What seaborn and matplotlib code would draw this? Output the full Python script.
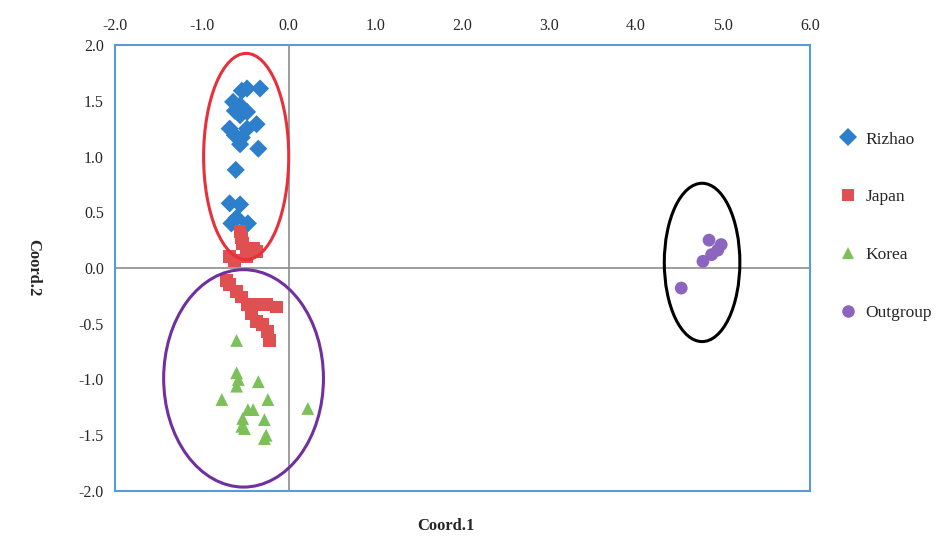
import numpy as np
import pandas as pd
import matplotlib
matplotlib.use("Agg")
import matplotlib.pyplot as plt
from matplotlib.patches import Ellipse
import seaborn as sns

# PCoA coordinates
rizhao_x = [-0.33, -0.54, -0.48, -0.64, -0.56, -0.62, -0.48, -0.56, -0.37, -0.68, -0.48,
            -0.62, -0.54, -0.56, -0.35, -0.61, -0.68, -0.56, -0.60, -0.66, -0.47]
rizhao_y = [1.61, 1.59, 1.61, 1.49, 1.46, 1.41, 1.40, 1.37, 1.29, 1.25, 1.25,
            1.19, 1.17, 1.11, 1.07, 0.88, 0.58, 0.57, 0.45, 0.40, 0.40]

japan_x = [-0.56, -0.54, -0.53, -0.41, -0.37, -0.68, -0.62, -0.49, -0.72, -0.68, -0.60,
           -0.54, -0.47, -0.35, -0.26, -0.14, -0.43, -0.37, -0.30, -0.24, -0.22]
japan_y = [0.33, 0.27, 0.22, 0.18, 0.15, 0.10, 0.07, 0.10, -0.11, -0.15, -0.21,
           -0.26, -0.33, -0.33, -0.33, -0.35, -0.41, -0.48, -0.51, -0.57, -0.65]

korea_x = [-0.60, -0.60, -0.58, -0.60, -0.35, -0.77, -0.24, -0.47, -0.41, -0.53,
           -0.28, -0.54, -0.51, -0.26, -0.28, 0.22]
korea_y = [-0.65, -0.94, -1.00, -1.06, -1.02, -1.18, -1.18, -1.27, -1.27, -1.35,
           -1.36, -1.42, -1.44, -1.50, -1.53, -1.26]

outgroup_x = [4.84, 4.98, 4.94, 4.87, 4.77, 4.52]
outgroup_y = [0.25, 0.21, 0.16, 0.12, 0.06, -0.18]

groups = ["Rizhao", "Japan", "Korea", "Outgroup"]
colors = {"Rizhao": "#2E7FCB", "Japan": "#E05050", "Korea": "#7CC05A", "Outgroup": "#8C66BE"}
markers = {"Rizhao": "D", "Japan": "s", "Korea": "^", "Outgroup": "o"}

# ellipses: (center x, center y, width, height, color)
ellipses = [(-0.49, 1.00, 0.98, 1.85, "#E8303A"),
            (-0.52, -0.99, 1.84, 1.95, "#7030A0"),
            (4.76, 0.05, 0.87, 1.42, "black")]

df = pd.concat([
    pd.DataFrame({"x": rizhao_x, "y": rizhao_y, "group": "Rizhao"}),
    pd.DataFrame({"x": japan_x, "y": japan_y, "group": "Japan"}),
    pd.DataFrame({"x": korea_x, "y": korea_y, "group": "Korea"}),
    pd.DataFrame({"x": outgroup_x, "y": outgroup_y, "group": "Outgroup"}),
])

sns.set_style("white")
plt.rcParams["font.family"] = ["Liberation Serif", "DejaVu Serif"]

fig = plt.figure(figsize=(9.53, 5.36), dpi=100)
ax = fig.add_axes([0.1207, 0.084, 0.729, 0.832])

ax.axhline(0, color="#8C8C8C", lw=1.2, zorder=0)
ax.axvline(0, color="#8C8C8C", lw=1.2, zorder=0)

sns.scatterplot(data=df, x="x", y="y", hue="group", style="group",
                hue_order=groups, style_order=groups,
                palette=colors, markers=markers, s=85, linewidth=0,
                ax=ax, zorder=3)

for cx, cy, w, h, c in ellipses:
    ax.add_patch(Ellipse((cx, cy), w, h, fill=False, edgecolor=c, lw=2.2, zorder=4))

ax.set_xlim(-2, 6)
ax.set_ylim(-2, 2)
ax.set_xticks(np.arange(-2, 7, 1))
ax.set_xticklabels([f"{v:.1f}" for v in np.arange(-2, 7, 1)])
ax.set_yticks(np.arange(-2, 2.01, 0.5))
ax.set_yticklabels([f"{v:.1f}" for v in np.arange(-2, 2.01, 0.5)])
ax.xaxis.tick_top()
ax.tick_params(length=0, labelsize=11.5, pad=8)

for sp in ax.spines.values():
    sp.set_color("#5B9BD5")
    sp.set_linewidth(1.5)

ax.set_xlabel("Coord.1", fontsize=12, fontweight="bold")
ax.xaxis.set_label_position("bottom")
ax.xaxis.set_label_coords(0.476, -0.06)
ax.set_ylabel("Coord.2", fontsize=12, fontweight="bold", rotation=270, va="center")
ax.yaxis.set_label_coords(-0.118, 0.5)

leg = ax.legend(loc="upper left", bbox_to_anchor=(1.02, 0.822), frameon=False,
                fontsize=12.5, labelspacing=2.4, handletextpad=0.0,
                borderaxespad=0)
for h in leg.legend_handles:
    h.set_markersize(9)

fig.savefig("out.png", dpi=100)
